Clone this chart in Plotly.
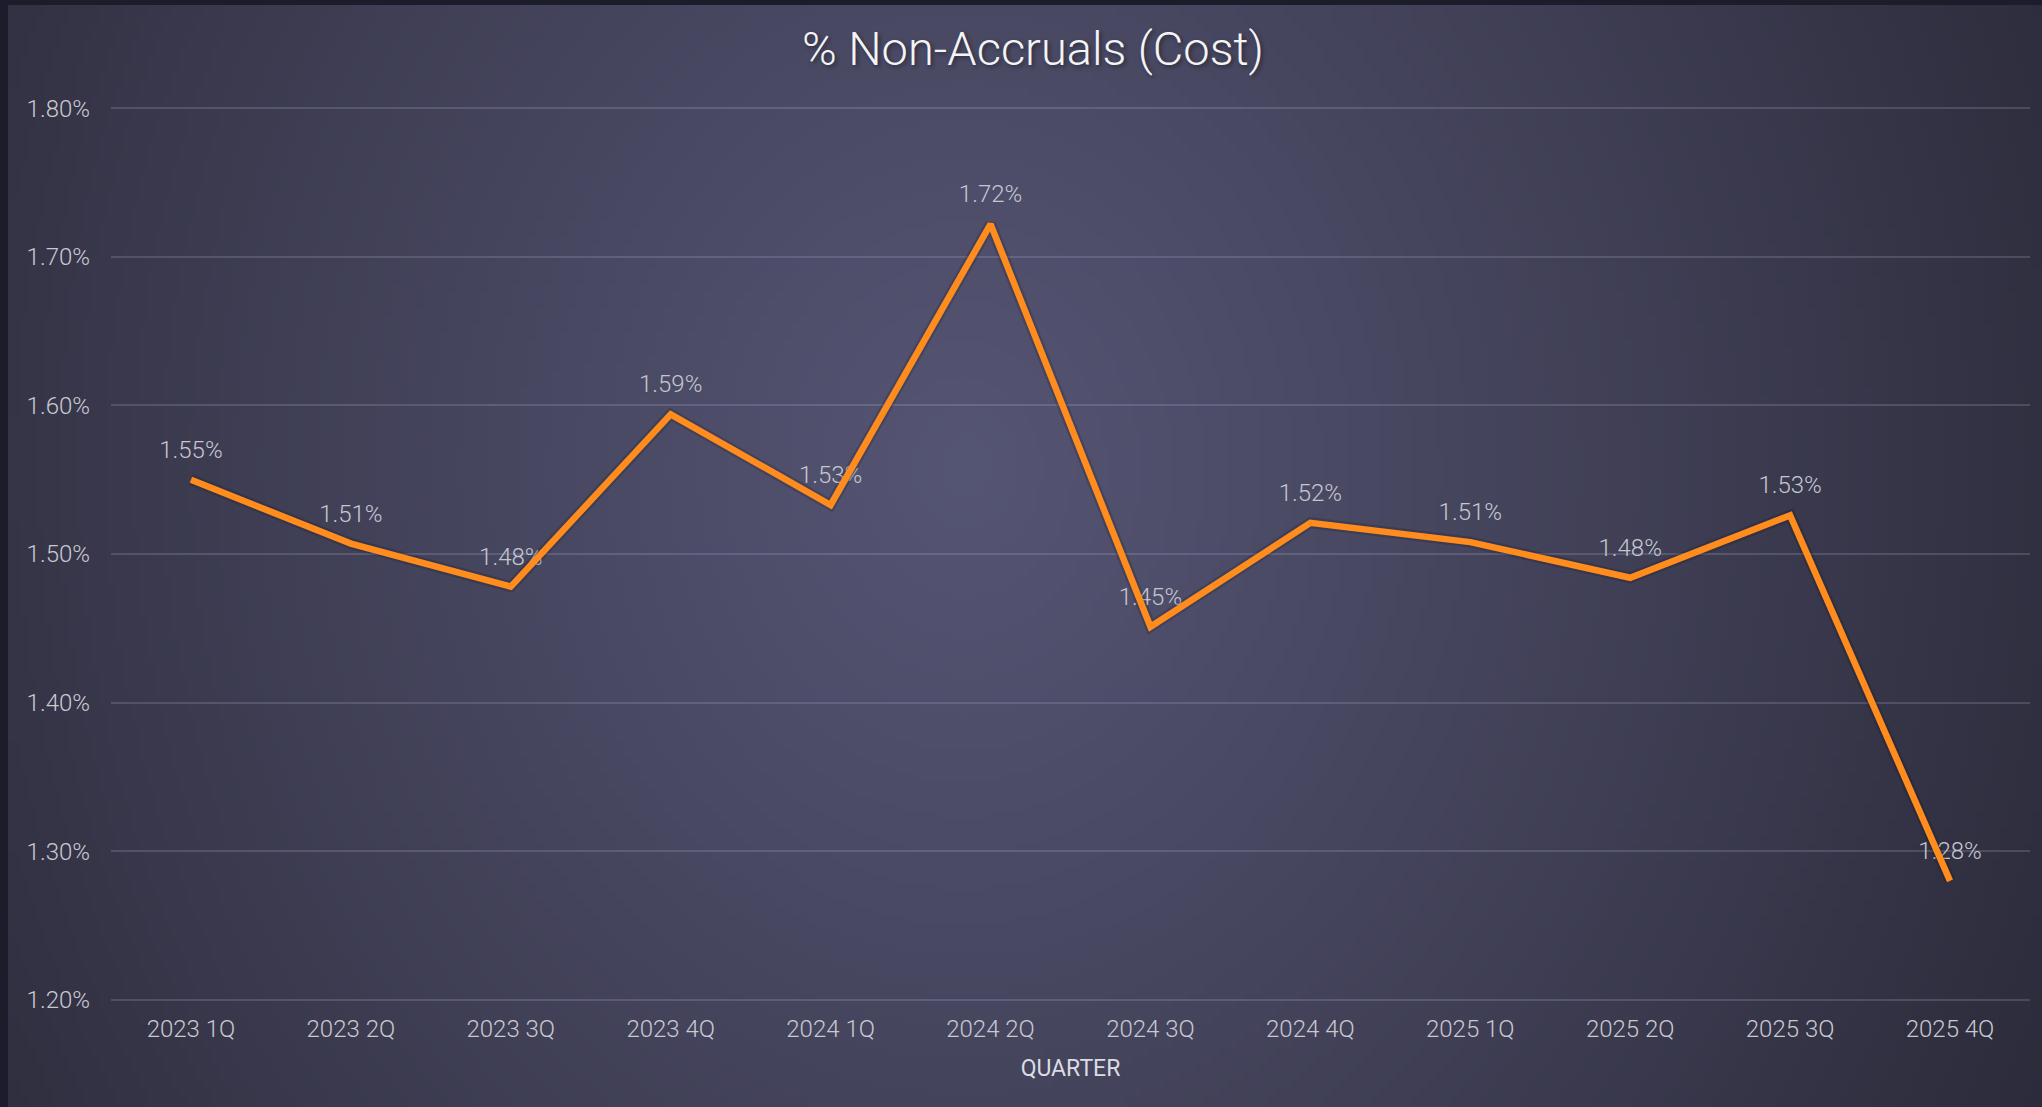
import base64
import struct
import zlib

import numpy as np
import plotly.graph_objects as go

# données
quarters = ["2023 1Q", "2023 2Q", "2023 3Q", "2023 4Q",
            "2024 1Q", "2024 2Q", "2024 3Q", "2024 4Q",
            "2025 1Q", "2025 2Q", "2025 3Q", "2025 4Q"]
pct_non_accrual = [1.550, 1.507, 1.478, 1.594,
                   1.533, 1.722, 1.451, 1.521,
                   1.508, 1.484, 1.526, 1.280]
y_range = [1.1985, 1.8015]   # un peu élargi pour garder les lignes 1.20 / 1.80

W, H = 2042, 1107
ML, MR, MT, MB = 111, 12, 106, 105
PW, PH = W - ML - MR, H - MT - MB


def gradient_png(w, h):
    """fond de la carte : dégradé radial, encodé en PNG (data URI)"""
    ys, xs = np.mgrid[0:h, 0:w]
    nx = (xs + 0.5) / w - 0.47
    ny = (ys + 0.5) / h - 0.42
    d = np.clip(np.sqrt((nx / 0.6) ** 2 + (ny / 1.3) ** 2), 0, 1) ** 1.1
    inner = np.array([85, 85, 116])
    outer = np.array([44, 43, 58])
    img = (inner[None, None, :] * (1 - d[..., None]) + outer[None, None, :] * d[..., None]).astype(np.uint8)
    raw = b"".join(b"\x00" + row.tobytes() for row in img)

    def chunk(tag, data):
        return struct.pack(">I", len(data)) + tag + data + struct.pack(">I", zlib.crc32(tag + data) & 0xffffffff)

    png = (b"\x89PNG\r\n\x1a\n"
           + chunk(b"IHDR", struct.pack(">IIBBBBB", w, h, 8, 2, 0, 0, 0))
           + chunk(b"IDAT", zlib.compress(raw, 9))
           + chunk(b"IEND", b""))
    return "data:image/png;base64," + base64.b64encode(png).decode()


fig = go.Figure()

# étiquettes (sous la ligne)
fig.add_trace(go.Scatter(x=quarters, y=pct_non_accrual,
                         mode="markers+text",
                         marker=dict(size=24, color="rgba(0,0,0,0)"),
                         texttemplate="%{y:.2f}%",
                         textposition="top center",
                         textfont=dict(family="Roboto", size=24, color="#c6c6d0", weight=300),
                         hoverinfo="skip", showlegend=False, cliponaxis=False))

# ombre légère
fig.add_trace(go.Scatter(x=quarters, y=pct_non_accrual, mode="lines",
                         line=dict(color="rgba(10,10,20,0.18)", width=11),
                         hoverinfo="skip", showlegend=False))

fig.add_trace(go.Scatter(x=quarters, y=pct_non_accrual, mode="lines",
                         name="% Non-Accruals (Cost)",
                         line=dict(color="#ff8c1c", width=6.5),
                         showlegend=False, cliponaxis=False))

# carte : démarre à x=8, y=5
card_x0, card_y0 = 8, 5
fig.add_layout_image(dict(source=gradient_png(256, 140),
                          xref="paper", yref="paper",
                          x=(card_x0 - ML) / PW, y=(H - MB - card_y0) / PH,
                          sizex=(W - card_x0) / PW, sizey=(H - card_y0) / PH,
                          xanchor="left", yanchor="top",
                          sizing="stretch", layer="below"))

fig.update_layout(
    width=W, height=H,
    margin=dict(l=ML, r=MR, t=MT, b=MB, autoexpand=False),
    paper_bgcolor="#1d1c2a",
    plot_bgcolor="rgba(0,0,0,0)",
    font=dict(family="Roboto", color="#c9c9d2"),
    title=dict(text="% Non-Accruals (Cost)",
               font=dict(family="Roboto", size=47, color="#f4f4f6", weight=300,
                         shadow="2px 2px 4px rgba(0,0,0,0.45)"),
               x=1033 / W, xref="container", xanchor="center",
               y=1 - 49 / H, yref="container", yanchor="middle"),
    xaxis=dict(range=[-0.5, len(quarters) - 0.5],
               showgrid=False, zeroline=False, showline=False, automargin=False,
               tickfont=dict(size=24, color="#c9c9d2", weight=300),
               ticklabelstandoff=10,
               title=dict(text="QUARTER", standoff=17,
                          font=dict(size=23, color="#dcdce4"))),
    yaxis=dict(range=y_range, dtick=0.1, tick0=1.2, tickformat=".2f", ticksuffix="%",
               showgrid=True, gridcolor="rgba(190,190,225,0.2)", gridwidth=2,
               zeroline=False, showline=False, automargin=False,
               tickfont=dict(size=24, color="#c9c9d2", weight=300),
               ticklabelstandoff=20),
)

# la page html a une marge de 8 px par défaut : on la retire
fig.write_html("out.html",
               config={"displayModeBar": False},
               post_script="document.body.style.margin='0';document.body.style.overflow='hidden';")
